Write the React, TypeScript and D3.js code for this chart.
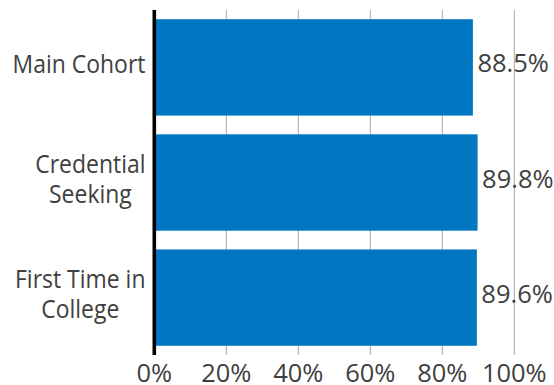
import React from "react";
import * as d3 from "d3";

const categories: string[][] = [["Main Cohort"], ["Credential", "Seeking"], ["First Time in", "College"]];
const values: number[] = [88.5, 89.8, 89.6];
const valueLabels: string[] = ["88.5%", "89.8%", "89.6%"];
const tickValues: number[] = [0, 20, 40, 60, 80, 100];
const tickLabels: string[] = ["0%", "20%", "40%", "60%", "80%", "100%"];

const W = 554;
const H = 385;
const FONT = "'Open Sans', sans-serif";
const FS = 25.5;
const TEXT = "#404040";
const BAR = "#0077c0";
const LABEL_SCALE = 0.9;

function measure(s: string): number {
  const c = document.createElement("canvas");
  const ctx = c.getContext("2d");
  if (!ctx) return s.length * FS * 0.5;
  ctx.font = `${FS}px ${FONT}`;
  return ctx.measureText(s).width;
}

export default function App() {
  const keys = categories.map((c) => c.join(" "));
  const x = d3.scaleLinear().domain([0, 100]).range([154.3, 514.3]);
  const y = d3.scaleBand<string>().domain(keys).range([10, 355]).paddingInner(0.163).paddingOuter(0.08);
  const labelRight = 145.5;
  const lineH = 29.4;

  return (
    <svg width={W} height={H} style={{ position: "absolute", left: 0, top: 0, background: "#fff" }} fontFamily={FONT}>
      {tickValues.slice(1).map((t) => (
        <line key={t} x1={x(t)} x2={x(t)} y1={10} y2={355} stroke="#a6a6a6" strokeWidth={1} />
      ))}
      {values.map((v, i) => (
        <rect key={i} x={x(0)} y={y(keys[i])!} width={x(v) - x(0)} height={y.bandwidth()} fill={BAR} />
      ))}
      <line x1={x(0)} x2={x(0)} y1={10} y2={355} stroke="#000" strokeWidth={3.6} />
      {values.map((v, i) => (
        <text key={i} x={x(v) + 4.5} y={y(keys[i])! + y.bandwidth() / 2 + 5} fontSize={FS} fill={TEXT}>
          {valueLabels[i]}
        </text>
      ))}
      {categories.map((lines, i) => {
        const maxW = Math.max(...lines.map(measure));
        const cy = y(keys[i])! + y.bandwidth() / 2;
        return (
          <g key={i} transform={`translate(${labelRight},0) scale(${LABEL_SCALE},1)`}>
            <text fontSize={FS} fill={TEXT} textAnchor="middle">
              {lines.map((l, j) => (
                <tspan key={j} x={-maxW / 2} y={cy + 5.5 + (j - (lines.length - 1) / 2) * lineH}>
                  {l}
                </tspan>
              ))}
            </text>
          </g>
        );
      })}
      {tickValues.map((t, i) => (
        <text key={t} x={x(t)} y={382} fontSize={FS} fill={TEXT} textAnchor="middle">
          {tickLabels[i]}
        </text>
      ))}
    </svg>
  );
}
